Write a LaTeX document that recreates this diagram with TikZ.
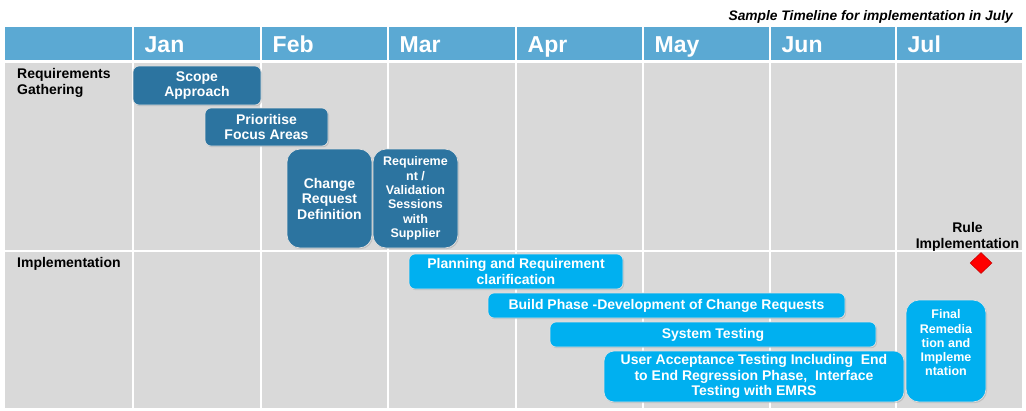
\documentclass[tikz,border=0pt]{standalone}
\usepackage{fontspec}
\setmainfont{Liberation Sans}
\usetikzlibrary{positioning,shapes,shadows}
\definecolor{headblue}{RGB}{91,169,211}
\definecolor{gridgray}{RGB}{217,217,217}
\definecolor{reqblue}{RGB}{44,116,160}
\definecolor{implblue}{RGB}{0,176,240}
\tikzset{
  gridline/.style={white, line width=1.2pt},
  month/.style={anchor=base west, text=white, inner sep=0pt, font=\bfseries\fontsize{23}{26}\selectfont},
  rowlabel/.style={anchor=north west, inner sep=0pt, align=left, font=\bfseries\fontsize{14}{16}\selectfont},
  task/.style={rounded corners=6pt, draw=white!88!black, line width=0.7pt, text=white, align=center,
    inner sep=1pt, outer sep=0pt, font=\bfseries\fontsize{14}{15.5}\selectfont,
    drop shadow={shadow xshift=1pt, shadow yshift=-1.2pt, opacity=0.3}},
  reqtask/.style={task, fill=reqblue},
  impltask/.style={task, fill=implblue},
  small/.style={font=\bfseries\fontsize{12.5}{14.3}\selectfont}
}

\begin{document}
\begin{tikzpicture}[x=1pt, y=-1pt]
    \useasboundingbox (0,0) rectangle (1026,410);

    % grid
    \fill[headblue] (5,27) rectangle (1022,60);
    \fill[gridgray] (5,63) rectangle (1022,408);
    \foreach \x in {133,261,388,516,643,770,896}
      \draw[gridline] (\x,27) -- (\x,408);
    \draw[gridline] (5,251) -- (1022,251);

    \foreach \x/\m in {133/Jan, 261/Feb, 388/Mar, 516/Apr, 643/May, 770/Jun, 896/Jul}
      \node[month] (\m) at (\x+11.5,52) {\m};

    \node[anchor=base east, inner sep=0pt, font=\bfseries\itshape\fontsize{13.8}{15}\selectfont] (title)
      at (1013,20) {Sample Timeline for implementation in July};

    \node[rowlabel] (reqrow) at (17,68) {Requirements\\Gathering};
    \node[rowlabel] (implrow) at (17,257) {Implementation};

    % requirements gathering
    \node[reqtask, minimum width=128, minimum height=39] (scope) at (197,85.5) {Scope\\Approach};
    \node[reqtask, minimum width=123, minimum height=38] (prio) at (266.5,127) {Prioritise\\Focus Areas};
    \node[reqtask, rounded corners=13pt, minimum width=85, minimum height=99] (change) at (329.5,198.5)
      {Change\\Request\\Definition};
    \node[reqtask, small, rounded corners=13pt, minimum width=85, minimum height=99] (reqval) [right=1pt of change]
      {Requireme\\nt /\\Validation\\Sessions\\with\\Supplier};

    % implementation
    \node[impltask, minimum width=214, minimum height=35] (plan) at (516,271.5)
      {Planning and Requirement\\clarification};
    \node[impltask, minimum width=357, minimum height=25] (build) at (666.5,305.5)
      {Build Phase -Development of Change Requests};
    \node[impltask, minimum width=326, minimum height=25] (systest) at (713,334.5) {System Testing};
    \node[impltask, rounded corners=10pt, minimum width=300, minimum height=51] (uat) at (754,376.5)
      {User Acceptance Testing Including \ End\\to End Regression Phase, \ Interface\\Testing with EMRS};
    \node[impltask, small, rounded corners=13pt, minimum width=80, minimum height=102] (final) at (946,351)
      {Final\\Remedia\\tion and\\Impleme\\ntation\\[2pt]\mbox{}};

    \node[anchor=north, inner sep=0pt, align=center, font=\bfseries\fontsize{14}{16}\selectfont] (rulelabel)
      at (967.5,222) {Rule\\Implementation};
    \node[diamond, fill=red, draw=red!75!black, line width=0.5pt, minimum width=22, minimum height=21,
      inner sep=0pt] (rulemark) at (981,263) {};
  \end{tikzpicture}
\end{document}
